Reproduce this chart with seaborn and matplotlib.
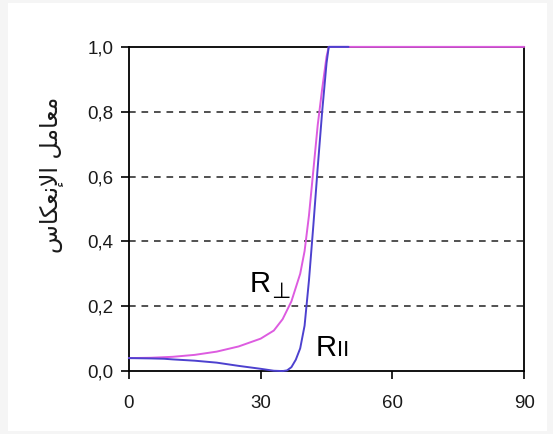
import matplotlib
matplotlib.use("Agg")
import matplotlib.pyplot as plt
import pandas as pd
import seaborn as sns

# angle of incidence (deg) and reflection coefficient
perp_angle = [0, 5, 10, 15, 20, 25, 30, 33, 35, 37, 39, 40, 41, 42, 43, 44, 45, 45.5, 50, 60, 70, 80, 90]
perp_r = [0.040, 0.041, 0.044, 0.050, 0.060, 0.076, 0.100, 0.125, 0.160, 0.215, 0.300, 0.370, 0.480,
          0.620, 0.760, 0.870, 0.970, 1.0, 1.0, 1.0, 1.0, 1.0, 1.0]

par_angle = [0, 5, 8, 10, 15, 20, 25, 30, 33, 35, 36, 37, 38, 39, 40, 41, 42, 43, 44, 45, 45.5, 50]
par_r = [0.040, 0.039, 0.038, 0.036, 0.032, 0.026, 0.016, 0.007, 0.001, 0.000, 0.002, 0.012, 0.035,
         0.070, 0.140, 0.280, 0.450, 0.630, 0.800, 0.950, 1.0, 1.0]

x_ticks = [0, 30, 60, 90]
y_ticks = [0.0, 0.2, 0.4, 0.6, 0.8, 1.0]
y_tick_labels = ["0,0", "0,2", "0,4", "0,6", "0,8", "1,0"]

# "معامل الإنعكاس" pre-shaped into presentation forms (matplotlib does no Arabic shaping)
y_label = "\ufeb1\ufe8e\ufedc\ufecc\ufee7\ufef9\ufe8d \ufede\ufee3\ufe8e\ufecc\ufee3"

PERP_COLOR = "#dd5ce0"
PAR_COLOR = "#4d41cf"

sns.set_style("white")
plt.rcParams["font.family"] = ["Liberation Sans", "DejaVu Sans"]

df = pd.concat([
    pd.DataFrame({"angle": perp_angle, "R": perp_r, "series": "perp"}),
    pd.DataFrame({"angle": par_angle, "R": par_r, "series": "par"}),
])

fig = plt.figure(figsize=(5.53, 4.34), dpi=100, facecolor="#f5f5f5")
fig.patches.append(plt.Rectangle((0.014, 0.008), 0.976, 0.984, transform=fig.transFigure,
                                 facecolor="white", edgecolor="none", zorder=-1))
ax = fig.add_axes([0.233, 0.145, 0.715, 0.747])
ax.set_facecolor("white")

for y in y_ticks[1:-1]:
    ax.axhline(y, color="#333333", lw=1.2, ls=(0, (4, 3.5)), zorder=1)

sns.lineplot(data=df, x="angle", y="R", hue="series", sort=False, estimator=None,
             palette={"perp": PERP_COLOR, "par": PAR_COLOR}, hue_order=["perp", "par"],
             linewidth=1.4, legend=False, ax=ax, zorder=3)
for line in ax.get_lines():
    line.set_clip_on(False)

ax.set_xlim(0, 90)
ax.set_ylim(0, 1)
ax.set_xticks(x_ticks)
ax.set_yticks(y_ticks)
ax.set_yticklabels(y_tick_labels)
ax.tick_params(axis="both", direction="out", length=6, width=1.2, color="black",
               labelsize=13.5, labelcolor="#1a1a1a", bottom=True, left=True)
ax.tick_params(axis="x", pad=11)
ax.tick_params(axis="y", pad=5)
ax.set_xlabel("")
ax.set_ylabel(y_label, family=["DejaVu Sans"], fontsize=17, color="#1a1a1a")
ax.yaxis.set_label_coords(-0.165, 0.605)
for s in ax.spines.values():
    s.set_visible(True)
    s.set_color("black")
    s.set_linewidth(1.3)
    s.set_zorder(2)

ax.text(27.6, 0.245, "R", fontsize=21, color="black")
ax.text(32.4, 0.225, "\u22a5", fontsize=16, color="black", family=["DejaVu Sans"])
ax.text(42.6, 0.045, "R", fontsize=21, color="black")
ax.text(47.3, 0.045, "II", fontsize=16, color="black")

fig.savefig("out.png", dpi=100)
